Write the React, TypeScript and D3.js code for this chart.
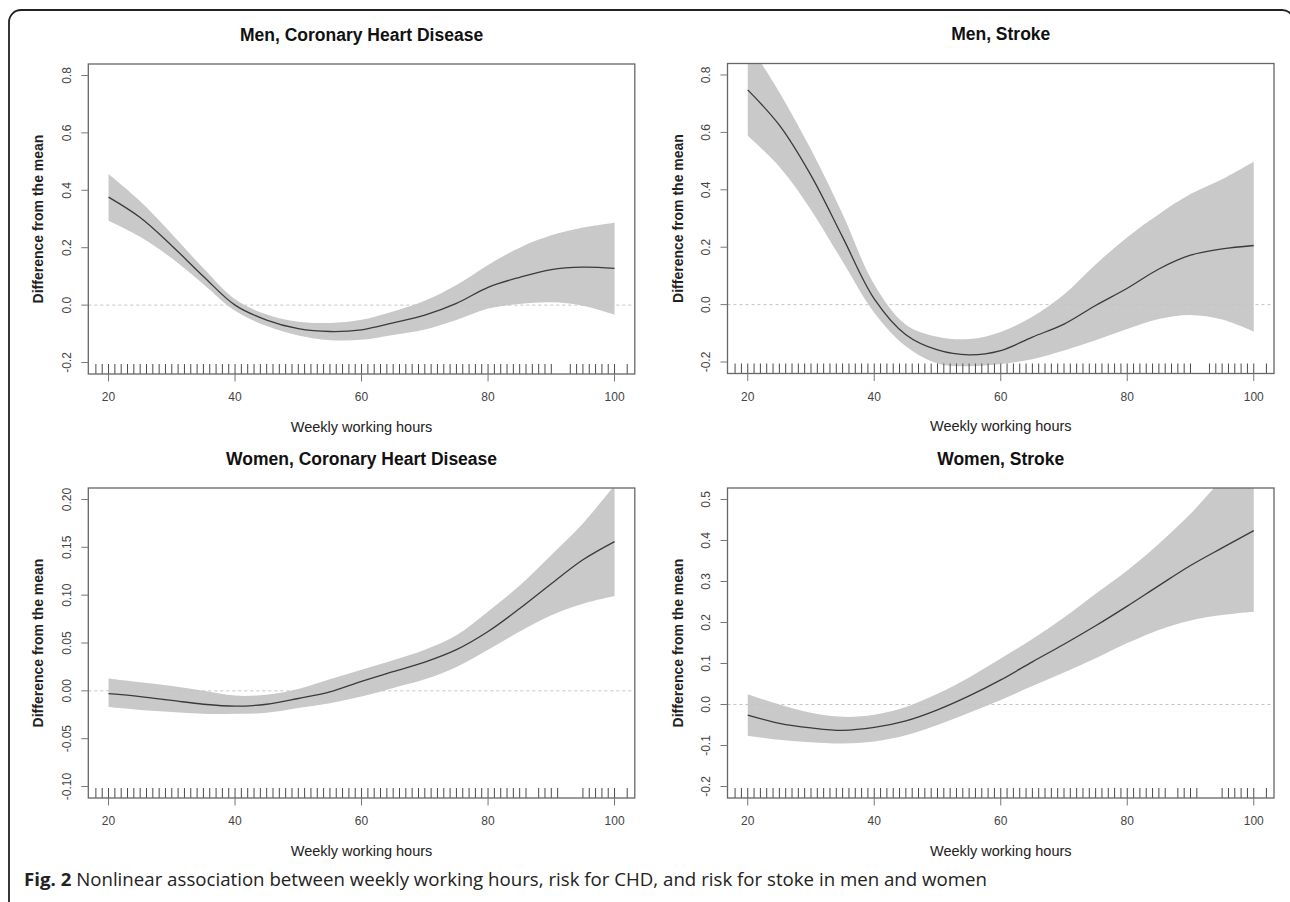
import * as d3 from "d3";

// hours at which the smooth curves were read
const hours = [20, 25, 30, 35, 40, 45, 50, 55, 60, 65, 70, 75, 80, 85, 90, 95, 100];

const menChdFit = [0.376, 0.305, 0.207, 0.1, 0.0, -0.052, -0.082, -0.092, -0.086, -0.062, -0.035, 0.006, 0.062, 0.097, 0.124, 0.132, 0.128];
const menChdUpper = [0.457, 0.362, 0.248, 0.128, 0.02, -0.033, -0.058, -0.062, -0.051, -0.022, 0.015, 0.07, 0.14, 0.2, 0.243, 0.27, 0.287];
const menChdLower = [0.294, 0.238, 0.163, 0.073, -0.02, -0.073, -0.106, -0.122, -0.121, -0.104, -0.085, -0.052, -0.012, 0.004, 0.01, -0.002, -0.033];

const menStrokeFit = [0.748, 0.625, 0.45, 0.235, 0.02, -0.105, -0.158, -0.175, -0.16, -0.113, -0.068, -0.003, 0.057, 0.124, 0.172, 0.194, 0.206];
const menStrokeUpper = [0.915, 0.74, 0.54, 0.315, 0.07, -0.07, -0.112, -0.12, -0.095, -0.042, 0.035, 0.14, 0.235, 0.315, 0.385, 0.437, 0.498];
const menStrokeLower = [0.588, 0.48, 0.33, 0.15, -0.028, -0.145, -0.205, -0.215, -0.207, -0.19, -0.16, -0.124, -0.085, -0.05, -0.036, -0.052, -0.094];

const womenChdFit = [-0.003, -0.006, -0.01, -0.014, -0.016, -0.014, -0.008, -0.001, 0.01, 0.02, 0.03, 0.043, 0.062, 0.086, 0.112, 0.137, 0.156];
const womenChdUpper = [0.013, 0.009, 0.005, 0.0, -0.005, -0.004, 0.002, 0.012, 0.022, 0.032, 0.043, 0.058, 0.083, 0.11, 0.142, 0.175, 0.215];
const womenChdLower = [-0.017, -0.02, -0.022, -0.024, -0.024, -0.023, -0.018, -0.013, -0.006, 0.003, 0.012, 0.025, 0.043, 0.062, 0.079, 0.091, 0.099];

const womenStrokeFit = [-0.026, -0.046, -0.057, -0.063, -0.056, -0.04, -0.013, 0.021, 0.06, 0.104, 0.147, 0.192, 0.24, 0.29, 0.339, 0.382, 0.424];
const womenStrokeUpper = [0.025, 0.0, -0.02, -0.03, -0.025, -0.006, 0.026, 0.066, 0.112, 0.16, 0.212, 0.27, 0.327, 0.392, 0.465, 0.55, 0.63];
const womenStrokeLower = [-0.076, -0.086, -0.092, -0.095, -0.09, -0.075, -0.05, -0.02, 0.011, 0.045, 0.078, 0.113, 0.15, 0.182, 0.205, 0.218, 0.226];

// observed working hours (rug)
const rugMen = [18, 19, 20, 21, 22, 23, 24, 25, 26, 27, 28, 29, 30, 31, 32, 33, 34, 35, 36, 37, 38, 39, 40, 41, 42, 43, 44, 45, 46, 47, 48, 49, 50, 51, 52, 53, 54, 55, 56, 57, 58, 59, 60, 61, 62, 63, 64, 65, 66, 67, 68, 69, 70, 71, 72, 73, 74, 75, 76, 77, 78, 79, 80, 81, 82, 83, 84, 85, 86, 87, 88, 89, 90, 93, 94, 95, 96, 97, 98, 99, 100, 102];
const rugWomen = [18, 19, 20, 21, 22, 23, 24, 25, 26, 27, 28, 29, 30, 31, 32, 33, 34, 35, 36, 37, 38, 39, 40, 41, 42, 43, 44, 45, 46, 47, 48, 49, 50, 51, 52, 53, 54, 55, 56, 57, 58, 59, 60, 61, 62, 63, 64, 65, 66, 67, 68, 69, 70, 71, 72, 73, 74, 75, 76, 77, 78, 79, 80, 81, 82, 83, 84, 85, 86, 88, 89, 90, 91, 95, 96, 97, 98, 99, 100, 102];

const xTicks = [20, 40, 60, 80, 100];
const yTicksMen = [-0.2, 0, 0.2, 0.4, 0.6, 0.8];
const yTicksWomenChd = [-0.1, -0.05, 0, 0.05, 0.1, 0.15, 0.2];
const yTicksWomenStroke = [-0.2, -0.1, 0, 0.1, 0.2, 0.3, 0.4, 0.5];

const titles = ["Men, Coronary Heart Disease", "Men, Stroke", "Women, Coronary Heart Disease", "Women, Stroke"];
const xTitle = "Weekly working hours";
const yTitle = "Difference from the mean";

const FONT = "'Liberation Sans', Arial, sans-serif";

type PanelProps = {
  id: string;
  left: number;
  top: number;
  width: number;
  height: number;
  title: string;
  fit: number[];
  upper: number[];
  lower: number[];
  yTicks: number[];
  digits: number;
  rug: number[];
};

function Panel({ id, left, top, width, height, title, fit, upper, lower, yTicks, digits, rug }: PanelProps) {
  const xPad = (100 - 20) * 0.04;
  const x = d3.scaleLinear().domain([20 - xPad, 100 + xPad]).range([left, left + width]);
  const y0 = yTicks[0];
  const y1 = yTicks[yTicks.length - 1];
  const yPad = (y1 - y0) * 0.04;
  const y = d3.scaleLinear().domain([y0 - yPad, y1 + yPad]).range([top + height, top]);
  const bottom = top + height;
  const fmt = d3.format(`.${digits}f`);

  const band = d3
    .area<number>()
    .x((_, i) => x(hours[i]))
    .y0((_, i) => y(lower[i]))
    .y1((d) => y(d))
    .curve(d3.curveCatmullRom)(upper);
  const line = d3
    .line<number>()
    .x((_, i) => x(hours[i]))
    .y((d) => y(d))
    .curve(d3.curveCatmullRom)(fit);

  return (
    <g fontFamily={FONT}>
      <defs>
        <clipPath id={id}>
          <rect x={left} y={top} width={width} height={height} />
        </clipPath>
      </defs>
      <text x={left + width / 2} y={top - 23.5} textAnchor="middle" fontSize={17.5} fontWeight="bold" fill="#111">
        {title}
      </text>
      <g clipPath={`url(#${id})`}>
        <path d={band ?? ""} fill="#c9c9c9" />
        <line x1={left} x2={left + width} y1={y(0)} y2={y(0)} stroke="#c4c4c4" strokeDasharray="3 3" />
        <path d={line ?? ""} fill="none" stroke="#3a3a3a" strokeWidth={1.3} />
      </g>
      {/* rug */}
      {rug.map((h) => (
        <line key={h} x1={x(h)} x2={x(h)} y1={bottom} y2={bottom - 10} stroke="#4a4a4a" strokeWidth={1} />
      ))}
      <rect x={left} y={top} width={width} height={height} fill="none" stroke="#666" strokeWidth={1.3} />
      {/* x axis */}
      {xTicks.map((t) => (
        <g key={t}>
          <line x1={x(t)} x2={x(t)} y1={bottom} y2={bottom + 7.5} stroke="#777" />
          <text x={x(t)} y={bottom + 27} textAnchor="middle" fontSize={12} fill="#444">
            {t}
          </text>
        </g>
      ))}
      {/* y axis */}
      {yTicks.map((t) => (
        <g key={t}>
          <line x1={left - 7} x2={left} y1={y(t)} y2={y(t)} stroke="#777" />
          <text
            transform={`translate(${left - 21.5},${y(t)}) rotate(-90)`}
            textAnchor="middle"
            dominantBaseline="central"
            fontSize={12}
            fill="#444"
          >
            {fmt(t).replace("\u2212", "-")}
          </text>
        </g>
      ))}
      <text x={left + width / 2} y={bottom + 57.5} textAnchor="middle" fontSize={14.5} fill="#222">
        {xTitle}
      </text>
      <text
        transform={`translate(${left - 50},${top + height / 2}) rotate(-90)`}
        textAnchor="middle"
        dominantBaseline="central"
        fontSize={14}
        fontWeight="bold"
        fill="#222"
      >
        {yTitle}
      </text>
    </g>
  );
}

export default function App() {
  const w = 546.5;
  const h = 310;
  return (
    <svg
      width={1290}
      height={902}
      style={{ position: "absolute", left: 0, top: 0, background: "#fff" }}
    >
      <rect x={0} y={0} width={1290} height={902} fill="#fff" />
      <rect x={9} y={10} width={1285} height={930} rx={12} fill="none" stroke="#222" strokeWidth={1.8} />
      <Panel id="p1" left={88.3} top={64} width={w} height={h} title={titles[0]}
        fit={menChdFit} upper={menChdUpper} lower={menChdLower} yTicks={yTicksMen} digits={1} rug={rugMen} />
      <Panel id="p2" left={727.5} top={63.5} width={w} height={h} title={titles[1]}
        fit={menStrokeFit} upper={menStrokeUpper} lower={menStrokeLower} yTicks={yTicksMen} digits={1} rug={rugMen} />
      <Panel id="p3" left={88.3} top={488} width={w} height={h} title={titles[2]}
        fit={womenChdFit} upper={womenChdUpper} lower={womenChdLower} yTicks={yTicksWomenChd} digits={2} rug={rugWomen} />
      <Panel id="p4" left={727.5} top={488} width={w} height={h} title={titles[3]}
        fit={womenStrokeFit} upper={womenStrokeUpper} lower={womenStrokeLower} yTicks={yTicksWomenStroke} digits={1} rug={rugWomen} />
      <text x={24} y={886} fontFamily="'Open Sans', 'Noto Sans', sans-serif" fontSize={17.5} fill="#222"
        textLength={963} lengthAdjust="spacingAndGlyphs">
        <tspan fontWeight="bold">Fig. 2</tspan> Nonlinear association between weekly working hours, risk for CHD, and risk for stoke in men and women
      </text>
    </svg>
  );
}
